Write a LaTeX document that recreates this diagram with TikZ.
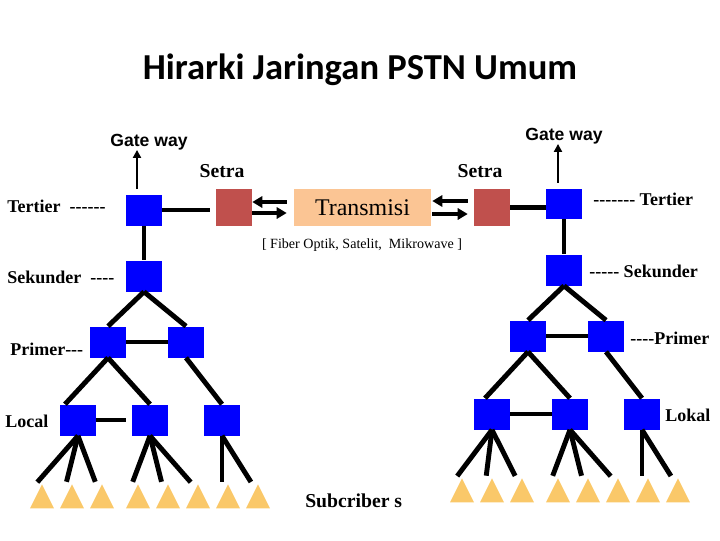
\documentclass[tikz,border=0pt]{standalone}
\usepackage{fontspec}
\usetikzlibrary{arrows.meta,calc,shapes.geometric}
\newfontfamily\titlefont{Carlito}
\newfontfamily\lblfont{Liberation Serif}
\newfontfamily\gwfont{Liberation Sans}
\definecolor{swblue}{RGB}{0,0,255}
\definecolor{setracol}{RGB}{192,80,77}
\definecolor{transcol}{RGB}{251,197,148}
\definecolor{subcol}{RGB}{250,200,105}
\newcommand{\hyph}[1]{\foreach \k in {1,...,#1}{\mbox{-}}}

\begin{document}
\begin{tikzpicture}[x=0.025cm,y=-0.025cm,
  sw/.style={fill=swblue,minimum width=0.9cm,minimum height=0.775cm,inner sep=0pt},
  setra/.style={fill=setracol,minimum width=0.9cm,minimum height=0.925cm,inner sep=0pt},
  subs/.style={fill=subcol,isosceles triangle,shape border rotate=90,
    isosceles triangle stretches,minimum width=0.6cm,minimum height=0.6cm,inner sep=0pt},
  link/.style={line width=3.5pt},
  gw/.style={-{Triangle[length=0.2cm,width=0.2cm]},line width=2pt},
  txarrow/.style={-{Triangle[length=0.25cm,width=0.28cm]},line width=2.8pt},
  lbl/.style={font=\lblfont\bfseries\fontsize{12.8}{15}\selectfont,inner sep=0pt,anchor=base west},
  gwlbl/.style={font=\gwfont\bfseries\fontsize{12.5}{15}\selectfont,inner sep=0pt,anchor=base},
  setlbl/.style={font=\lblfont\bfseries\fontsize{14}{16}\selectfont,inner sep=0pt,anchor=base}]
  \useasboundingbox (0,0) rectangle (720,540);
  \node[font=\titlefont\bfseries\fontsize{26}{30}\selectfont,anchor=base] (title) at (360,79)
    {Hirarki Jaringan PSTN Umum};
  % ---------------- transmission in the middle ----------------
  \node[fill=transcol,minimum width=3.425cm,minimum height=0.925cm,inner sep=0pt,
    font=\lblfont\fontsize{17}{20}\selectfont] (trans) at (362.5,207.5) {Transmisi};
  \node[font=\lblfont\fontsize{10}{12}\selectfont,inner sep=0pt,anchor=base] (media) at (362,248)
    {[ Fiber Optik, Satelit,\ \ Mikrowave ]};
  \node[setra] (setL) at (234,207.5) {};
  \node[setra] (setR) at (492,207.5) {};
  \node[setlbl] (setLlbl) at (222,177) {Setra};
  \node[setlbl] (setRlbl) at (480,177) {Setra};
  \draw[txarrow] ($(trans.west)+(-7,-5.5)$) -- ($(setL.east)+(0,-5.5)$);
  \draw[txarrow] ($(setL.east)+(0,5.5)$) -- ($(trans.west)+(-7,5.5)$);
  \draw[txarrow] ($(setR.west)+(-6,-6.5)$) -- ($(trans.east)+(1,-6.5)$);
  \draw[txarrow] ($(trans.east)+(1,6.5)$) -- ($(setR.west)+(-6,6.5)$);
  % ---------------- left hierarchy ----------------
  \node[sw] (terL) at (144,210) {};
  \node[sw] (sekL) at (144,276) {};
  \node[sw] (priL1) at (108,342) {};
  \node[sw] (priL2) at (186,342) {};
  \node[sw] (locL1) at (78,420) {};
  \node[sw] (locL2) at (150,420) {};
  \node[sw] (locL3) at (222,420) {};
  \foreach \x [count=\i] in {42,72,102,138,168,198,228,258}
    \node[subs] (tL\i) at (\x,501) {};
  \node[gwlbl] (gwL) at (149,146) {Gate way};
  \node[lbl] (terLlbl) at (7,212) {Tertier\ \ \hyph{6}};
  \node[lbl] (sekLlbl) at (7,283) {Sekunder\ \ \hyph{4}};
  \node[lbl] (priLlbl) at (10,355) {Primer\hyph{3}};
  \node[lbl] (locLlbl) at (5,427) {Local};
  \draw[gw] ($(terL.north)+(-7,-5)$) -- ($(terL.north |- gwL.south)+(-7,0)$);
  \draw[link,shorten >=0.15cm] (terL.east) -- (terL.east -| setL.west);
  \draw[link] (terL.south) -- (sekL.north);
  \draw[link] (sekL.south) -- (priL1.north);
  \draw[link] (sekL.south) -- (priL2.north);
  \draw[link] (priL1.east) -- (priL2.west);
  \draw[link] (priL1.south) -- ($(locL1.north)+(-13,0)$);
  \draw[link] (priL1.south) -- (locL2.north);
  \draw[link] (priL2.south) -- (locL3.north);
  \draw[link,shorten >=0.15cm] (locL1.east) -- (locL2.west);
  \foreach \l/\t in {locL1/tL1,locL1/tL2,locL1/tL3,locL2/tL4,locL2/tL5,locL2/tL6,locL3/tL7,locL3/tL8}
    \draw[link,shorten >=0.05cm] (\l.south) -- ($(\t.north)+(-6,0)$);
  % ---------------- right hierarchy ----------------
  \node[sw,minimum height=0.75cm] (terR) at (564,204) {};
  \node[sw] (sekR) at (564,270) {};
  \node[sw] (priR1) at (528,336) {};
  \node[sw] (priR2) at (606,336) {};
  \node[sw] (locR1) at (492,414) {};
  \node[sw] (locR2) at (570,414) {};
  \node[sw] (locR3) at (642,414) {};
  \foreach \x [count=\i] in {462,492,522,558,588,618,648,678}
    \node[subs] (tR\i) at (\x,495) {};
  \node[gwlbl] (gwR) at (564,140) {Gate way};
  \node[lbl] (terRlbl) at (593,205) {\hyph{7} Tertier};
  \node[lbl] (sekRlbl) at (589,277) {\hyph{5} Sekunder};
  \node[lbl] (priRlbl) at (630,344) {\hyph{4}Primer};
  \node[lbl] (locRlbl) at (665,421) {Lokal};
  \draw[gw] ($(terR.north)+(-6,-6)$) -- ($(terR.north |- gwR.south)+(-6,0)$);
  \draw[link] (setR.east) -- (setR.east -| terR.west);
  \draw[link] (terR.south) -- (sekR.north);
  \draw[link] (sekR.south) -- (priR1.north);
  \draw[link] (sekR.south) -- (priR2.north);
  \draw[link] (priR1.east) -- (priR2.west);
  \draw[link] (priR1.south) -- ($(locR1.north)+(-7,0)$);
  \draw[link] (priR1.south) -- (locR2.north);
  \draw[link] (priR2.south) -- (locR3.north);
  \draw[link] (locR1.east) -- (locR2.west);
  \foreach \l/\t in {locR1/tR1,locR1/tR2,locR1/tR3,locR2/tR4,locR2/tR5,locR2/tR6,locR3/tR7,locR3/tR8}
    \draw[link,shorten >=0.05cm] (\l.south) -- ($(\t.north)+(-6,0)$);
  \node[lbl,font=\lblfont\bfseries\fontsize{14}{16}\selectfont] (sublbl) at (305,507) {Subcriber s};
\end{tikzpicture}
\end{document}
